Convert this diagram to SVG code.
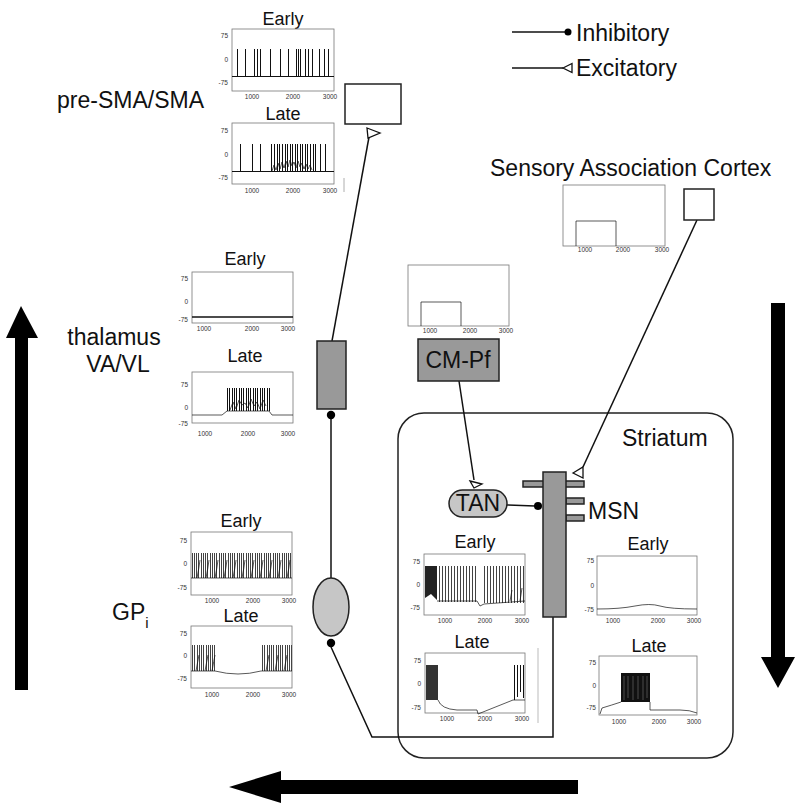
<svg xmlns="http://www.w3.org/2000/svg" width="800" height="803" viewBox="0 0 800 803">
<style>
.box{fill:none;stroke:#777;stroke-width:0.8}
.tr{fill:none;stroke:#111;stroke-width:0.7}
.sp{fill:none;stroke:#111;stroke-width:1;shape-rendering:crispEdges}
.trg{fill:none;stroke:#444;stroke-width:1;shape-rendering:crispEdges}
.tk{font-family:"Liberation Sans",Arial,sans-serif;font-size:6.5px;fill:#333}
.yl{text-anchor:end}
.xl{text-anchor:middle}
.ttl{font-family:"Liberation Sans",Arial,sans-serif;font-size:18px;text-anchor:middle;fill:#111}
.lbl{font-family:"Liberation Sans",Arial,sans-serif;font-size:23px;fill:#111}
.dark{fill:#999;stroke:#222;stroke-width:1.5}
.light{fill:#c6c6c6;stroke:#222;stroke-width:1.5}
.conn{fill:none;stroke:#111;stroke-width:1.5}
.dot{fill:#000}
.exc{fill:#fff;stroke:#111;stroke-width:1.3}
.big{fill:#000}
</style>
<defs>
<path id="tri" d="M0,0 L9,-4.5 L9,4.5 Z"/>
</defs>
<rect width="800" height="803" fill="#fff"/>

<!-- legend -->
<g id="legend">
<line class="conn" x1="512" y1="32" x2="565" y2="32"/>
<circle class="dot" cx="568" cy="32" r="3.5"/>
<text class="lbl" x="576" y="41">Inhibitory</text>
<line class="conn" x1="512" y1="68" x2="563" y2="68"/>
<use href="#tri" class="exc" x="563" y="68"/>
<text class="lbl" x="576" y="76">Excitatory</text>
</g>

<!-- big arrows -->
<g id="arrows">
<polygon class="big" points="6,338 21,306 38,338 28,338 28,690 15,690 15,338"/>
<polygon class="big" points="771,303 785,303 785,657 795,657 778,688 761,657 771,657"/>
<polygon class="big" points="578,780 578,794 281,794 281,803 229,787 281,771 281,780"/>
</g>

<!-- pre-SMA plots -->
<g id="presma-plots">
<text class="ttl" x="283" y="25">Early</text>
<rect class="box" x="232" y="29" width="102" height="62"/>
<text class="tk yl" x="228" y="38">75</text><text class="tk yl" x="228" y="62">0</text><text class="tk yl" x="228" y="85">-75</text>
<text class="tk xl" x="252" y="99">1000</text><text class="tk xl" x="293" y="99">2000</text><text class="tk xl" x="330" y="99">3000</text>
<path class="sp" d="M232,76H334M237,76V49M245,76V49M254,76V49M257,76V49M260,76V49M270,76V49M280,76V49M288,76V49M296,76V49M298,76V49M300,76V49M305,76V49M308,76V49M312,76V49M319,76V49M324,76V49M328,76V49"/>
<text class="ttl" x="283" y="120">Late</text>
<rect class="box" x="232" y="123" width="102" height="61"/>
<text class="tk yl" x="228" y="133">75</text><text class="tk yl" x="228" y="157">0</text><text class="tk yl" x="228" y="180">-75</text>
<text class="tk xl" x="252" y="193">1000</text><text class="tk xl" x="293" y="193">2000</text><text class="tk xl" x="330" y="193">3000</text>
<path class="sp" d="M232,171H334M240,171V144M252,171V144M260,171V144M271,171V144M274,171V144M277,171V144M279,171V144M282,171V144M285,171V144M287,171V144M290,171V144M292,171V144M295,171V144M297,171V144M300,171V144M302,171V144M305,171V144M307,171V144M310,171V144M313,171V144M315,171V144M320,171V144M325,171V144"/>
<path class="tr" d="M272,171L274,165L276,170L278,163L280,169L282,162L284,168L286,161L288,167L290,160L292,166L294,162L296,168L298,161L300,167L302,163L304,169L306,164L308,169L310,165L312,170"/>
<line x1="344" y1="178" x2="344" y2="192" stroke="#999" stroke-width="0.8"/>
</g>

<!-- thalamus plots -->
<g id="thalamus-plots">
<text class="ttl" x="245" y="265">Early</text>
<rect class="box" x="192" y="272" width="101" height="51"/>
<text class="tk yl" x="188" y="281">75</text><text class="tk yl" x="188" y="304">0</text><text class="tk yl" x="188" y="322">-75</text>
<text class="tk xl" x="204" y="331">1000</text><text class="tk xl" x="252" y="331">2000</text><text class="tk xl" x="288" y="331">3000</text>
<line x1="192" y1="317" x2="293" y2="317" stroke="#111" stroke-width="1.4"/>
<text class="ttl" x="245" y="362">Late</text>
<rect class="box" x="192" y="372" width="101" height="51"/>
<text class="tk yl" x="188" y="387">75</text><text class="tk yl" x="188" y="410">0</text><text class="tk yl" x="188" y="426">-75</text>
<text class="tk xl" x="205" y="436">1000</text><text class="tk xl" x="248" y="436">2000</text><text class="tk xl" x="288" y="436">3000</text>
<path class="tr" d="M192,415H222L227,411H269L272,415H293"/>
<path class="sp" d="M227,411V388M229,411V388M232,411V388M234,411V388M236,411V388M239,411V388M241,411V388M243,411V388M246,411V388M248,411V388M250,411V388M253,411V388M255,411V388M257,411V388M260,411V388M262,411V388M264,411V388M267,411V388M269,411V388"/>
<path class="tr" d="M230,410L233,402L236,409L239,400L242,405L245,403L248,408L251,399L254,406L257,402L260,409L263,400L266,406"/>
</g>

<!-- GPi plots -->
<g id="gpi-plots">
<text class="ttl" x="241" y="527">Early</text>
<rect class="box" x="191" y="532" width="101" height="63"/>
<text class="tk yl" x="187" y="543">75</text><text class="tk yl" x="187" y="566">0</text><text class="tk yl" x="187" y="590">-75</text>
<text class="tk xl" x="212" y="603">1000</text><text class="tk xl" x="253" y="603">2000</text><text class="tk xl" x="289" y="603">3000</text>
<path class="trg" d="M192,578V553M194,578V553M196,578V553M198,578V553M201,578V553M203,578V553M205,578V553M207,578V553M210,578V553M212,578V553M214,578V553M216,578V553M219,578V553M221,578V553M223,578V553M225,578V553M228,578V553M230,578V553M232,578V553M234,578V553M237,578V553M239,578V553M241,578V553M243,578V553M246,578V553M248,578V553M250,578V553M252,578V553M255,578V553M257,578V553M259,578V553M261,578V553M264,578V553M266,578V553M268,578V553M270,578V553M273,578V553M275,578V553M277,578V553M279,578V553M282,578V553M284,578V553M286,578V553M288,578V553M290,578V553"/>
<path class="tr" d="M191,578H292M197,578Q199,568 200,560M206,578Q208,568 209,560M215,578Q217,568 218,560M224,578Q226,568 227,560M233,578Q235,568 236,560M242,578Q244,568 245,560M251,578Q253,568 254,560M260,578Q262,568 263,560M269,578Q271,568 272,560M278,578Q280,568 281,560M287,578Q289,568 290,560"/>
<text class="ttl" x="241" y="622">Late</text>
<rect class="box" x="191" y="626" width="101" height="62"/>
<text class="tk yl" x="187" y="636">75</text><text class="tk yl" x="187" y="658">0</text><text class="tk yl" x="187" y="681">-75</text>
<text class="tk xl" x="212" y="697">1000</text><text class="tk xl" x="253" y="697">2000</text><text class="tk xl" x="289" y="697">3000</text>
<path class="trg" d="M192,671V645M194,671V645M197,671V645M199,671V645M201,671V645M203,671V645M206,671V645M208,671V645M210,671V645M212,671V645M214,671V645M262,671V645M264,671V645M267,671V645M269,671V645M271,671V645M273,671V645M276,671V645M278,671V645M280,671V645M282,671V645M285,671V645M287,671V645M289,671V645M291,671V645"/>
<path class="tr" d="M191,671H215Q238,677 261,671H292M196,671Q198,660 199,655M205,671Q207,660 208,655M212,671Q214,660 215,655M266,671Q268,660 269,655M275,671Q277,660 278,655M284,671Q286,660 287,655"/>
</g>

<!-- CM-Pf plot -->
<g id="cmpf-plot">
<rect class="box" x="408" y="265" width="101" height="61"/>
<path class="tr" d="M421,326V302H461V326" stroke-width="0.9"/>
<text class="tk xl" x="430" y="333">1000</text><text class="tk xl" x="470" y="333">2000</text><text class="tk xl" x="506" y="333">3000</text>
</g>

<!-- Sensory plot -->
<g id="sensory-plot">
<rect class="box" x="563" y="185" width="102" height="61"/>
<path class="tr" d="M576,246V221H616V246" stroke-width="0.9"/>
<text class="tk xl" x="585" y="252">1000</text><text class="tk xl" x="623" y="252">2000</text><text class="tk xl" x="662" y="252">3000</text>
</g>

<!-- Striatum container -->
<g id="striatum">
<rect x="398" y="413" width="335" height="345" rx="26" ry="26" fill="none" stroke="#222" stroke-width="1.5"/>
<text class="lbl" x="622" y="446">Striatum</text>
</g>

<!-- TAN plots -->
<g id="tan-plots">
<text class="ttl" x="475" y="548">Early</text>
<rect class="box" x="424" y="554" width="101" height="61"/>
<text class="tk yl" x="420" y="564">75</text><text class="tk yl" x="420" y="587">0</text><text class="tk yl" x="420" y="610">-75</text>
<text class="tk xl" x="445" y="623">1000</text><text class="tk xl" x="485" y="623">2000</text><text class="tk xl" x="522" y="623">3000</text>
<path d="M425,566H437V600L431,594L425,598Z" fill="#222"/>
<path class="trg" d="M439,602V566M442,602V566M445,602V566M448,602V566M451,602V566M454,602V566M457,602V566M460,602V566M463,602V566M466,602V566M469,602V566M472,602V566M475,602V566M484,603V566M487,603V566M490,603V566M493,603V566M496,603V566M499,603V566M502,603V566M505,603V566M508,603V566M511,603V566M514,603V566M517,603V566M520,603V566M523,603V566" stroke="#777"/>
<path class="tr" d="M437,601H477L480,606L484,604L525,601M510,601L512,590M520,601L522,588"/>
<text class="ttl" x="472" y="648">Late</text>
<rect class="box" x="425" y="653" width="100" height="60"/>
<text class="tk yl" x="421" y="663">75</text><text class="tk yl" x="421" y="686">0</text><text class="tk yl" x="421" y="710">-75</text>
<text class="tk xl" x="447" y="721">1000</text><text class="tk xl" x="485" y="721">2000</text><text class="tk xl" x="522" y="721">3000</text>
<path d="M426,665H438V700H426Z" fill="#333"/>
<path class="tr" d="M438,700Q441,709 457,710H477L478,714L513,700L525,700"/>
<path class="sp" d="M514,700V665M517,697V665M520,692V665M523,698V665" stroke="#666"/>
<line x1="538" y1="648" x2="538" y2="723" stroke="#aaa" stroke-width="0.8"/>
</g>

<!-- MSN plots -->
<g id="msn-plots">
<text class="ttl" x="648" y="550">Early</text>
<rect class="box" x="597" y="556" width="100" height="59"/>
<text class="tk yl" x="594" y="563">75</text><text class="tk yl" x="594" y="588">0</text><text class="tk yl" x="594" y="612">-75</text>
<text class="tk xl" x="613" y="623">1000</text><text class="tk xl" x="658" y="623">2000</text><text class="tk xl" x="694" y="623">3000</text>
<path class="tr" d="M597,609Q620,609 635,606T660,606T697,609"/>
<text class="ttl" x="649" y="652">Late</text>
<rect class="box" x="599" y="656" width="98" height="59"/>
<text class="tk yl" x="596" y="665">75</text><text class="tk yl" x="596" y="688">0</text><text class="tk yl" x="596" y="710">-75</text>
<text class="tk xl" x="619" y="724">1000</text><text class="tk xl" x="659" y="724">2000</text><text class="tk xl" x="694" y="724">3000</text>
<path d="M621,673H650V702H621Z" fill="#111"/>
<path d="M624,676V700M628,676V698M633,676V700M638,676V699M643,676V700M647,676V698" stroke="#777" stroke-width="0.6"/>
<path class="tr" d="M600,714L602,708Q612,705 621,702M650,702V710H680Q690,710 697,713"/>
</g>

<!-- connectors -->
<g id="connectors">
<line class="conn" x1="332" y1="341" x2="369" y2="137"/>
<polygon class="exc" points="367,128 380,133 368,138"/>
<line class="conn" x1="331" y1="578" x2="331" y2="419"/>
<circle class="dot" cx="331" cy="415" r="4.2"/>
<polyline class="conn" points="553,617 553,737 372,737 331,647"/>
<circle class="dot" cx="331" cy="643" r="4.2"/>
<line class="conn" x1="459" y1="381" x2="474" y2="480"/>
<polygon class="exc" points="470,481 482,484 474,488"/>
<line class="conn" x1="697" y1="220" x2="583" y2="467"/>
<polygon class="exc" points="573,473 583,467 583,478"/>
<line class="conn" x1="507" y1="505" x2="535" y2="506"/>
<circle class="dot" cx="538" cy="506" r="4"/>
</g>

<!-- nodes -->
<g id="presma">
<rect x="345" y="84" width="56" height="40" fill="#fff" stroke="#222" stroke-width="1.5"/>
<text class="lbl" x="57" y="108">pre-SMA/SMA</text>
</g>
<g id="sensory">
<rect x="684" y="189" width="30" height="31" fill="#fff" stroke="#222" stroke-width="1.5"/>
<text class="lbl" x="490" y="176">Sensory Association Cortex</text>
</g>
<g id="thalamus">
<rect class="dark" x="317" y="341" width="29" height="68"/>
<text class="lbl" x="114" y="345" text-anchor="middle">thalamus</text>
<text class="lbl" x="118" y="372" text-anchor="middle">VA/VL</text>
</g>
<g id="gpi">
<ellipse class="light" cx="331" cy="607" rx="18" ry="29"/>
<text class="lbl" x="112" y="620">GP<tspan font-size="15" dy="8">i</tspan></text>
</g>
<g id="cmpf">
<rect class="dark" x="418" y="339" width="81" height="42"/>
<text class="lbl" x="458" y="368" text-anchor="middle">CM-Pf</text>
</g>
<g id="tan">
<rect class="light" x="449" y="490" width="58" height="27" rx="13.5" ry="13.5"/>
<text class="lbl" x="478" y="511" text-anchor="middle" font-size="22">TAN</text>
</g>
<g id="msn">
<rect class="dark" x="523" y="481" width="61" height="6"/>
<rect class="dark" x="566" y="498" width="18" height="6"/>
<rect class="dark" x="566" y="515" width="18" height="6"/>
<rect class="dark" x="543" y="472" width="23" height="145"/>
<text class="lbl" x="588" y="519">MSN</text>
</g>
</svg>
